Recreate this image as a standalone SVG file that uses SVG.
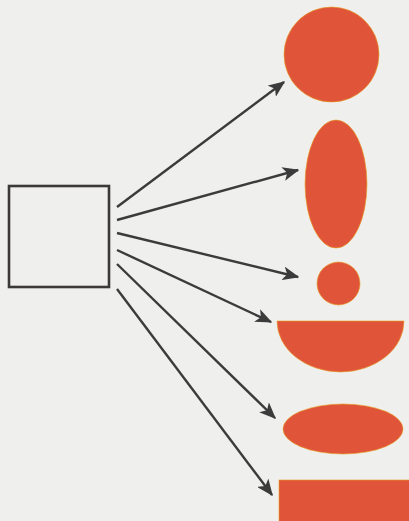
<svg xmlns="http://www.w3.org/2000/svg" width="409" height="521" viewBox="0 0 409 521">
<style>
.bg{fill:#efefee}
.shape{fill:#e0553a;stroke:#e8a020;stroke-width:0.6}
.box{fill:none;stroke:#3b3838;stroke-width:2.6}
.conn{stroke:#3b3b3b;stroke-width:2.4;fill:none;marker-end:url(#ah)}
</style>
<defs>
<marker id="ah" viewBox="0 0 12 10" refX="11" refY="5" markerWidth="7" markerHeight="5.8" markerUnits="strokeWidth" orient="auto">
<path d="M0,0 L12,5 L0,10 L3,5 Z" fill="#3b3b3b"/>
</marker>
</defs>
<rect class="bg" x="0" y="0" width="409" height="521"/>
<g id="source">
<rect class="box" x="9" y="186" width="100" height="101"/>
</g>
<g id="connectors">
<line class="conn" x1="117" y1="207" x2="284" y2="82"/>
<line class="conn" x1="117" y1="220" x2="298" y2="170"/>
<line class="conn" x1="117" y1="233" x2="298" y2="277"/>
<line class="conn" x1="117" y1="250" x2="271" y2="322"/>
<line class="conn" x1="117" y1="264" x2="275" y2="418"/>
<line class="conn" x1="117" y1="289" x2="272" y2="495"/>
</g>
<g id="circle-large">
<circle class="shape" cx="331.5" cy="54.5" r="47.5"/>
</g>
<g id="ellipse-vertical">
<ellipse class="shape" cx="336" cy="184" rx="31" ry="64"/>
</g>
<g id="circle-small">
<circle class="shape" cx="338.5" cy="283.5" r="21.5"/>
</g>
<g id="half-circle">
<path class="shape" d="M277,321 L404,321 A63.5,51 0 0 1 277,321 Z"/>
</g>
<g id="ellipse-horizontal">
<ellipse class="shape" cx="343" cy="429" rx="60" ry="25"/>
</g>
<g id="rectangle">
<rect class="shape" x="279" y="480" width="135" height="45"/>
</g>
</svg>
